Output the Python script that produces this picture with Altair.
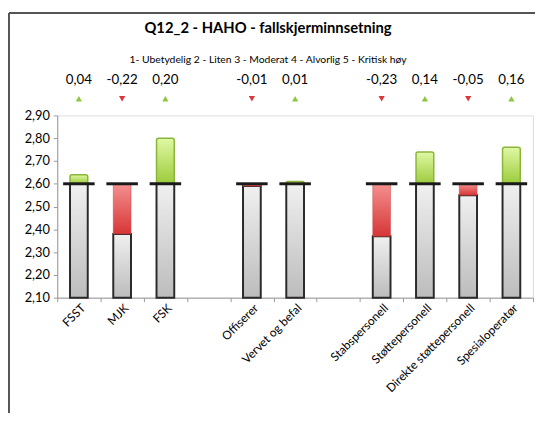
import altair as alt
import pandas as pd

# ---- data ----
categories = ["FSST", "MJK", "FSK",
              "Offiserer", "Vervet og befal",
              "Stabspersonell", "Støttepersonell", "Direkte støttepersonell", "Spesialoperatør"]
groups = [1, 1, 1, 2, 2, 3, 3, 3, 3]
deltas = [0.04, -0.22, 0.20, -0.01, 0.01, -0.23, 0.14, -0.05, 0.16]
baseline = 2.60
y_ticks = [2.10, 2.20, 2.30, 2.40, 2.50, 2.60, 2.70, 2.80, 2.90]
title_text = "Q12_2 - HAHO - fallskjerminnsetning"
subtitle_text = "1- Ubetydelig 2 - Liten 3 - Moderat 4 - Alvorlig 5 - Kritisk høy"

# x domain with blank gap categories between groups
domain = []
prev = None
gap = " "
for c, g in zip(categories, groups):
    if prev is not None and g != prev:
        domain.append(gap)
        gap += " "
    domain.append(c)
    prev = g

rows = []
for c, d in zip(categories, deltas):
    v = round(baseline + d, 2)
    rows.append({
        "cat": c,
        "delta": d,
        "value": v,
        "low": y_ticks[0],
        "base": baseline,
        "gtop": min(v, baseline),
        "label": f"{d:.2f}".replace(".", ","),
        "dir": "up" if d > 0 else "down",
    })
df = pd.DataFrame(rows)

FONT = "Lato"
ysc = alt.Scale(domain=[y_ticks[0], y_ticks[-1]], zero=False, nice=False)
yaxis = alt.Axis(title=None, values=y_ticks, grid=False, labelOverlap=False,
                 labelExpr="replace(format(datum.value, '.2f'), '.', ',')",
                 labelFontSize=13, labelColor="#000", labelFont=FONT,
                 labelPadding=4, domainColor="#999", tickColor="#999",
                 tickSize=4)
xaxis = alt.Axis(title=None, tickBand="extent", labelAngle=315,
                 labelAlign="right", labelBaseline="middle",
                 labelFontSize=12, labelColor="#000", labelFont=FONT,
                 labelPadding=4, labelOffset=4, domainColor="#999", tickColor="#999",
                 tickSize=4, labelOverlap=False)
xsc = alt.Scale(domain=domain, paddingInner=0, paddingOuter=0)


def X():
    return alt.X("cat:N", sort=domain, scale=xsc, axis=xaxis)


def Y(field):
    return alt.Y(field, scale=ysc, axis=yaxis)


grey_grad = alt.Gradient(gradient="linear", x1=0, x2=0, y1=0, y2=1,
                         stops=[alt.GradientStop(color="#f0f0f0", offset=0),
                                alt.GradientStop(color="#bcbcbc", offset=1)])
red_grad = alt.Gradient(gradient="linear", x1=0, x2=0, y1=0, y2=1,
                        stops=[alt.GradientStop(color="#f59090", offset=0),
                               alt.GradientStop(color="#d63636", offset=1)])
green_grad = alt.Gradient(gradient="linear", x1=0, x2=0, y1=0, y2=1,
                          stops=[alt.GradientStop(color="#e0f8a4", offset=0),
                                 alt.GradientStop(color="#9ccb3c", offset=1)])

base = alt.Chart(df)

grey = base.mark_bar(size=18, color=grey_grad, stroke="#2a2a2a", strokeWidth=2).encode(
    x=X(), y=Y("low:Q"), y2="gtop:Q")

red = base.transform_filter("datum.delta < 0").mark_bar(
    size=18, color=red_grad, stroke="#c94040", strokeWidth=0.5).encode(
    x=X(), y=Y("value:Q"), y2="base:Q")

green = base.transform_filter("datum.delta > 0").mark_bar(
    size=18, color=green_grad, stroke="#8ab53a", strokeWidth=1.5, cornerRadiusTopLeft=2,
    cornerRadiusTopRight=2).encode(
    x=X(), y=Y("base:Q"), y2="value:Q")

ticks = base.mark_tick(orient="horizontal", size=32, thickness=3, color="#1a1a1a",
                       opacity=1).encode(
    x=X(), y=Y("base:Q"))

tri = base.mark_point(filled=True, size=40, opacity=1).encode(
    x=X(), y=alt.value(-17),
    shape=alt.Shape("dir:N", scale=alt.Scale(domain=["up", "down"],
                                             range=["triangle-up", "triangle-down"]), legend=None),
    color=alt.Color("dir:N", scale=alt.Scale(domain=["up", "down"],
                                             range=["#8dc63f", "#d9383a"]), legend=None))

dlabels = base.mark_text(fontSize=13.5, font=FONT, color="#000", baseline="middle").encode(
    x=X(), y=alt.value(-36), text="label:N")

one = alt.Chart(pd.DataFrame({"t": [title_text], "s": [subtitle_text]}))
title = one.mark_text(fontSize=15, fontWeight="bold", font=FONT, color="#000",
                      baseline="middle").encode(x=alt.value(214), y=alt.value(-89), text="t:N")
subtitle = one.mark_text(fontSize=10.5, font=FONT, color="#000",
                         baseline="middle").encode(x=alt.value(214), y=alt.value(-56), text="s:N")

frame_left = one.mark_rule(color="#555", strokeWidth=2).encode(
    x=alt.value(-49), y=alt.value(-104), y2=alt.value(320))
frame_top = one.mark_rule(color="#555", strokeWidth=2).encode(
    x=alt.value(-49), x2=alt.value(500), y=alt.value(-104))

chart = alt.layer(grey, red, green, ticks, tri, dlabels, title, subtitle,
                  frame_left, frame_top).properties(
    width=483, height=185,
    autosize=alt.AutoSizeParams(type="none"),
    padding={"left": 50, "top": 106, "right": 2, "bottom": 114},
).configure_view(stroke=None).configure_axis(labelOverlap=False).configure(background="#ffffff")

chart.save("out.html", embed_options={"renderer": "svg", "actions": False})
